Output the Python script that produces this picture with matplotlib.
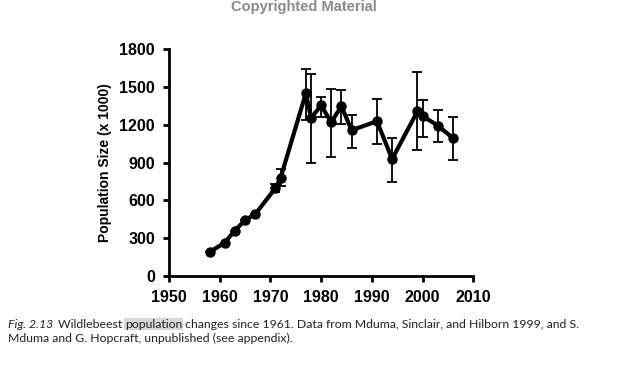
import numpy as np
import matplotlib.pyplot as plt

years = [1958, 1961, 1963, 1965, 1967, 1971, 1972, 1977, 1978, 1980, 1982, 1984, 1986,
         1991, 1994, 1999, 2000, 2003, 2006]
pop = [190, 265, 361, 443, 491, 698, 778, 1453, 1255, 1354, 1221, 1349, 1157,
       1229, 929, 1309, 1269, 1195, 1094]
err_lo = [0, 0, 0, 0, 0, 30, 60, 215, 355, 93, 276, 146, 140,
          180, 183, 311, 165, 133, 170]
err_hi = [0, 0, 0, 0, 0, 30, 70, 188, 350, 69, 266, 127, 125,
          178, 167, 310, 125, 122, 167]

plt.rcParams['font.family'] = ['Liberation Sans', 'DejaVu Sans']

fig = plt.figure(figsize=(6.4, 3.68), dpi=100)
ax = fig.add_axes([0.264, 0.25, 0.4755, 0.616])

ax.errorbar(years, pop, yerr=[err_lo, err_hi], color='black', lw=3, marker='o',
            ms=6.5, ecolor='black', elinewidth=1.3, capsize=3.5, capthick=1.3)

ax.set_xlim(1950, 2010)
ax.set_ylim(0, 1800)
ax.set_xticks(np.arange(1950, 2011, 10))
ax.set_yticks(np.arange(0, 1801, 300))
for s in ['top', 'right']:
    ax.spines[s].set_visible(False)
for s in ['left', 'bottom']:
    ax.spines[s].set_linewidth(2)
ax.tick_params(width=2, length=4, labelsize=11.5, pad=6)
for lab in ax.get_xticklabels() + ax.get_yticklabels():
    lab.set_fontweight('bold')
ax.set_ylabel('Population Size (x 1000)', fontsize=10, fontweight='bold', labelpad=5)

fig.text(0.475, 0.981, 'Copyrighted Material', ha='center', va='center',
         fontsize=10.5, fontweight='bold', color='#8a8a8a')

# caption, built piece by piece
fig.canvas.draw()
r = fig.canvas.get_renderer()
cap = dict(fontsize=8.8, family=['Lato', 'DejaVu Sans'], color='#222222')
x0, y1, y2 = 8 / 640, 1 - 324 / 368, 1 - 338 / 368
t = fig.text(x0, y1, 'Fig. 2.13', style='italic', va='center', **cap)
x = t.get_window_extent(r).x1 / 640 + 0.007
t = fig.text(x, y1, 'Wildlebeest ', va='center', **cap)
x = t.get_window_extent(r).x1 / 640
t = fig.text(x, y1, 'population', va='center',
             bbox=dict(facecolor='#d8d8d8', edgecolor='none', pad=0.6), **cap)
x = t.get_window_extent(r).x1 / 640
fig.text(x, y1, ' changes since 1961. Data from Mduma, Sinclair, and Hilborn 1999, and S.',
         va='center', **cap)
fig.text(x0, y2, 'Mduma and G. Hopcraft, unpublished (see appendix).', va='center', **cap)

fig.savefig('out.png', dpi=100)
